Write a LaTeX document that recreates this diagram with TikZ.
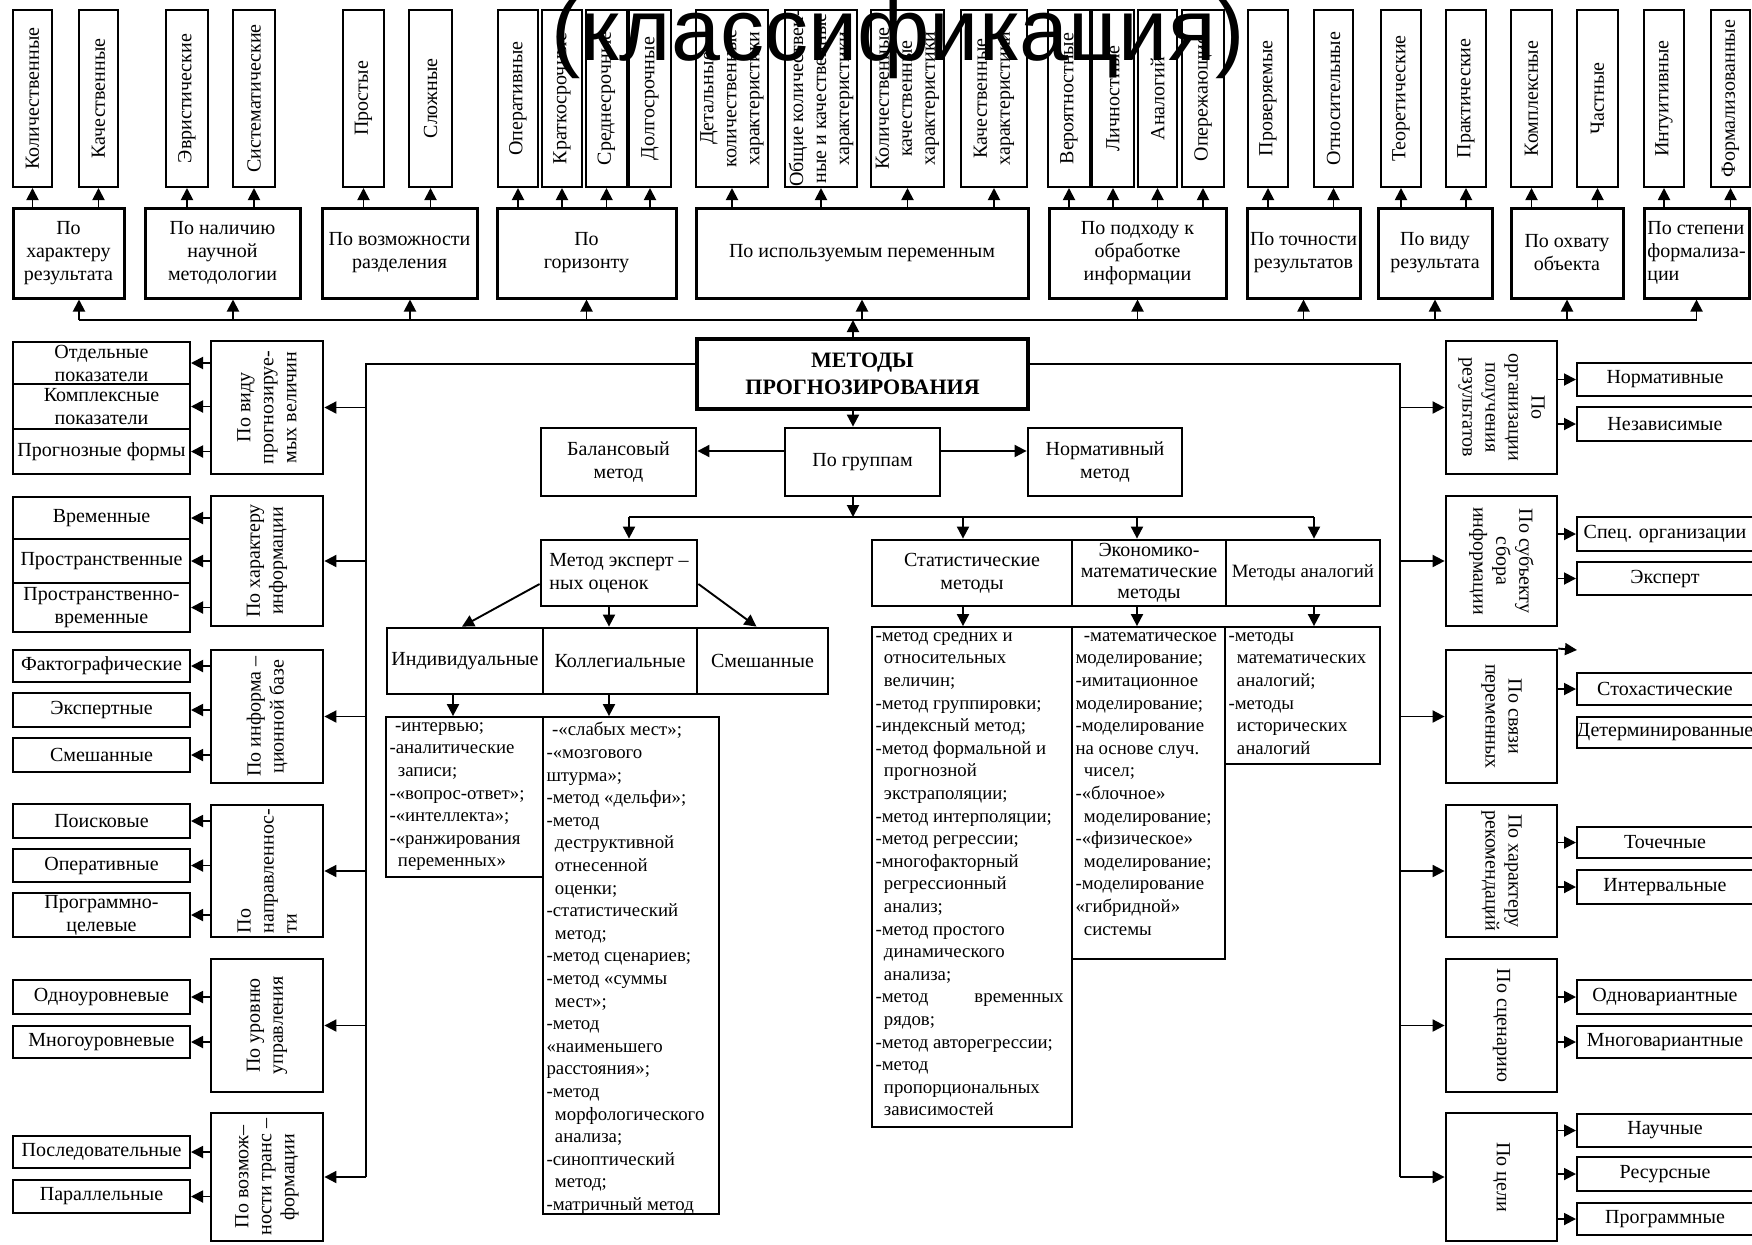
\documentclass[tikz,border=0pt]{standalone}
\usepackage{fontspec}
\setmainfont{Liberation Serif}
\newfontfamily\titlefont{Liberation Sans}
\usetikzlibrary{arrows.meta,calc}
\newcommand\fnbox{\fontsize{10}{11.5}\selectfont}
\newcommand\fnlist{\fontsize{9.4}{11.3}\selectfont}
\newcommand\ind{\hspace*{0.45em}}
\tikzset{
 conn/.style={line width=0.95pt},
 arr/.style={conn, -{Triangle[length=6pt,width=6pt]}},
 topbox/.style={draw, line width=1pt},
 catbox/.style={draw, line width=1.5pt},
 sidebox/.style={draw, line width=1.4pt},
 itembox/.style={draw, line width=1pt},
 cbox/.style={draw, line width=1.4pt},
 mbox/.style={draw, line width=2.3pt},
 listbox/.style={draw, line width=0.9pt},
 lbl/.style={align=center, inner sep=0pt, font=\fnbox},
 rot/.style={lbl, rotate=90},
 rotl/.style={lbl, rotate=90, align=left},
 rotr/.style={lbl, rotate=-90},
 mtext/.style={align=center, inner sep=0pt, font=\fontsize{11}{13.5}\selectfont\bfseries},
 ltext/.style={align=left, inner sep=0pt, anchor=north west, font=\fnlist},
}
% name x1 y1 x2 y2 boxstyle textstyle text
\newcommand\bx[8]{%
 \pgfmathsetmacro\bxw{((#4)-(#2))*0.5}%
 \pgfmathsetmacro\bxh{((#5)-(#3))*0.5}%
 \node[#6, minimum width=\bxw pt, minimum height=\bxh pt, inner sep=0pt] (#1) at ({((#2)+(#4))/2},{((#3)+(#5))/2}) {};
 \node[#7] (#1t) at (#1.center) {#8};}
% list box: name x1 y1 x2 y2 text
\newcommand\lst[6]{%
 \pgfmathsetmacro\bxw{((#4)-(#2))*0.5}%
 \pgfmathsetmacro\bxh{((#5)-(#3))*0.5}%
 \node[listbox, minimum width=\bxw pt, minimum height=\bxh pt, inner sep=0pt] (#1) at ({((#2)+(#4))/2},{((#3)+(#5))/2}) {};
 \node[ltext] (#1t) at ($(#1.north west)+(4,6)$) {#6};}
\begin{document}
\begin{tikzpicture}[x=0.5pt,y=-0.5pt]
\useasboundingbox (0,0) rectangle (1752,1244);
\clip (0,0) rectangle (1752,1244);
\fill[white] (0,0) rectangle (1752,1244);

% ---------- top rotated boxes ----------
\bx{t1}{13}{10}{52}{187}{topbox}{rot}{Количественные}
\bx{t2}{79}{10}{118}{187}{topbox}{rot}{Качественные}
\bx{t3}{166}{10}{208}{187}{topbox}{rot}{Эвристические}
\bx{t4}{233}{10}{275}{187}{topbox}{rot}{Систематические}
\bx{t5}{343}{10}{384}{187}{topbox}{rot}{Простые}
\bx{t6}{409}{10}{452}{187}{topbox}{rot}{Сложные}
\bx{t7}{498}{10}{538}{187}{topbox}{rot}{Оперативные}
\bx{t8}{542}{10}{582}{187}{topbox}{rot}{Краткосрочные}
\bx{t9}{586}{10}{627}{187}{topbox}{rot}{Среднесрочные}
\bx{t10}{629}{10}{671}{187}{topbox}{rot}{Долгосрочные}
\bx{t11}{696}{10}{768}{187}{topbox}{rot}{Детальные\\количественные\\характеристики}
\bx{t12}{785}{10}{857}{187}{topbox}{rot}{Общие количествен-\\ные и качественные\\характеристики}
\bx{t13}{871}{10}{944}{187}{topbox}{rot}{Количественные\\качественные\\характеристики}
\bx{t14}{961}{10}{1027}{187}{topbox}{rot}{Качественные\\характеристики}
\bx{t15}{1048}{10}{1090}{187}{topbox}{rot}{Вероятностные}
\bx{t16}{1092}{10}{1134}{187}{topbox}{rot}{Личностные}
\bx{t17}{1138}{10}{1177}{187}{topbox}{rot}{Аналогий}
\bx{t18}{1182}{10}{1224}{187}{topbox}{rot}{Опережающие}
\bx{t19}{1248}{10}{1288}{187}{topbox}{rot}{Проверяемые}
\bx{t20}{1314}{10}{1353}{187}{topbox}{rot}{Относительные}
\bx{t21}{1381}{10}{1421}{187}{topbox}{rot}{Теоретические}
\bx{t22}{1446}{10}{1486}{187}{topbox}{rot}{Практические}
\bx{t23}{1511}{10}{1552}{187}{topbox}{rot}{Комплексные}
\bx{t24}{1577}{10}{1618}{187}{topbox}{rot}{Частные}
\bx{t25}{1644}{10}{1684}{187}{topbox}{rot}{Интуитивные}
\bx{t26}{1711}{10}{1750}{187}{topbox}{rot}{Формализованные}

% ---------- category boxes ----------
\bx{c1}{13}{208}{124}{298}{catbox}{lbl}{По\\характеру\\результата}
\bx{c2}{145}{208}{300}{298}{catbox}{lbl}{По наличию\\научной\\методологии}
\bx{c3}{322}{208}{477}{298}{catbox}{lbl}{По возможности\\разделения}
\bx{c4}{497}{208}{676}{298}{catbox}{lbl}{По\\горизонту}
\bx{c5}{696}{208}{1028}{298}{catbox}{lbl}{По используемым переменным}
\bx{c6}{1049}{208}{1226}{298}{catbox}{lbl}{По подходу к\\обработке\\информации}
\bx{c7}{1247}{208}{1360}{298}{catbox}{lbl}{По точности\\результатов}
\bx{c8}{1378}{208}{1492}{298}{catbox}{lbl}{По виду\\результата}
\bx{c9}{1511}{208}{1623}{298}{catbox}{lbl}{По охвату\\объекта}
\bx{c10}{1644}{208}{1749}{298}{catbox}{lbl, align=left}{По степени\\формализа-\\ции}

\foreach \t/\c in {t1/c1,t2/c1,t3/c2,t4/c2,t5/c3,t6/c3,t7/c4,t8/c4,t9/c4,t10/c4,
  t11/c5,t12/c5,t13/c5,t14/c5,t15/c6,t16/c6,t17/c6,t18/c6,t19/c7,t20/c7,
  t21/c8,t22/c8,t23/c9,t24/c9,t25/c10,t26/c10}
  \draw[arr] (\t.south |- \c.north) -- (\t.south);

% bus with drops into the category boxes
\coordinate (bus) at (0,320);
\coordinate (k1) at (79,320);
\coordinate (k2) at (233,320);
\coordinate (k3) at (410,320);
\draw[conn] (k1) -- (c10.south |- bus);
\draw[arr] (k1) -- (k1 |- c1.south);
\draw[arr] (k2) -- (k2 |- c2.south);
\draw[arr] (k3) -- (k3 |- c3.south);
\foreach \c in {c4,c5,c6,c7,c8,c9,c10}
  \draw[arr] (\c.south |- bus) -- (\c.south);

% ---------- centre ----------
\bx{met}{697}{339}{1028}{409}{mbox}{mtext}{МЕТОДЫ\\ПРОГНОЗИРОВАНИЯ}
\coordinate (mx) at (853,0);
\draw[arr] (mx |- met.north) -- (mx |- bus);

\bx{grp}{785}{428}{940}{496}{cbox}{lbl}{По группам}
\bx{bal}{541}{428}{696}{496}{cbox}{lbl}{Балансовый\\метод}
\bx{norm}{1028}{428}{1182}{496}{cbox}{lbl}{Нормативный\\метод}
\draw[arr] (mx |- met.south) -- (mx |- grp.north);
\coordinate (gy) at (0,451);
\draw[arr] (grp.west |- gy) -- (bal.east |- gy);
\draw[arr] (grp.east |- gy) -- (norm.west |- gy);

\coordinate (sp) at (0,517);
\coordinate (d1) at (629,517);
\coordinate (d2) at (963,517);
\coordinate (d3) at (1137,517);
\coordinate (d4) at (1314,517);
\draw[arr] (mx |- grp.south) -- (mx |- sp);
\draw[conn] (d1) -- (d4);

\bx{exp}{541}{540}{697}{606}{cbox}{lbl, align=left}{Метод эксперт –\\ных оценок}
\bx{stat}{872}{540}{1072}{606}{cbox}{lbl}{Статистические\\методы}
\bx{econ}{1072}{540}{1226}{606}{cbox}{lbl, font=\fontsize{10}{10.5}\selectfont}{Экономико-\\математические\\методы}
\bx{anal}{1226}{540}{1380}{606}{cbox}{lbl, font=\fontsize{9.4}{11}\selectfont}{Методы аналогий}
\draw[arr] (d1) -- (d1 |- exp.north);
\draw[arr] (d2) -- (d2 |- stat.north);
\draw[arr] (d3) -- (d3 |- econ.north);
\draw[arr] (d4) -- (d4 |- anal.north);

\lst{statl}{872}{627}{1072}{1127}{-метод средних и\\
\ind относительных\\
\ind величин;\\
-метод группировки;\\
-индексный метод;\\
-метод формальной и\\
\ind прогнозной\\
\ind экстраполяции;\\
-метод интерполяции;\\
-метод регрессии;\\
-многофакторный\\
\ind регрессионный\\
\ind анализ;\\
-метод простого\\
\ind динамического\\
\ind анализа;\\
\makebox[94pt][s]{-метод\hfill временных}\\
\ind рядов;\\
-метод авторегрессии;\\
-метод\\
\ind пропорциональных\\
\ind зависимостей}
\lst{econl}{1072}{627}{1225}{959}{\ind -математическое\\
моделирование;\\
-имитационное\\
моделирование;\\
-моделирование\\
на основе случ.\\
\ind чисел;\\
-«блочное»\\
\ind моделирование;\\
-«физическое»\\
\ind моделирование;\\
-моделирование\\
«гибридной»\\
\ind системы}
\lst{anall}{1225}{627}{1380}{764}{-методы\\
\ind математических\\
\ind аналогий;\\
-методы\\
\ind исторических\\
\ind аналогий}
\draw[arr] (d2 |- stat.south) -- (d2 |- statl.north);
\draw[arr] (d3 |- econ.south) -- (d3 |- econl.north);
\draw[arr] (d4 |- anal.south) -- (d4 |- anall.north);

% expert subtree
\bx{ind}{387}{628}{543}{694}{cbox}{lbl}{Индивидуальные}
\bx{kol}{543}{628}{697}{694}{cbox}{lbl}{Коллегиальные}
\bx{smesh}{697}{628}{828}{694}{cbox}{lbl}{Смешанные}
\coordinate (ey) at (0,584);
\coordinate (kx) at (609,0);
\coordinate (ix) at (453,0);
\draw[arr] (exp.west |- ey) -- ($(ind.north)+(-3,0)$);
\draw[arr] (kx |- exp.south) -- (kx |- kol.north);
\draw[arr] (exp.east |- ey) -- ($(smesh.north)+(-6,0)$);

\lst{indl}{386}{717}{543}{877}{\hspace*{0.3em}-интервью;\\
-аналитические\\
\ind записи;\\
-«вопрос-ответ»;\\
-«интеллекта»;\\
-«ранжирования\\
\ind переменных»}
\lst{koll}{543}{717}{719}{1214}{\hspace*{0.3em}-«слабых мест»;\\
-«мозгового\\
штурма»;\\
-метод «дельфи»;\\
-метод\\
\ind деструктивной\\
\ind отнесенной\\
\ind оценки;\\
-статистический\\
\ind метод;\\
-метод сценариев;\\
-метод «суммы\\
\ind мест»;\\
-метод\\
«наименьшего\\
расстояния»;\\
-метод\\
\ind морфологического\\
\ind анализа;\\
-синоптический\\
\ind метод;\\
-матричный метод}
\draw[arr] (ix |- ind.south) -- (ix |- indl.north);
\draw[arr] (kx |- kol.south) -- (kx |- koll.north);

% ---------- left side ----------
\bx{L1}{211}{341}{323}{474}{sidebox}{rot}{По виду\\прогнозируе-\\мых величин}
\bx{L2}{211}{496}{323}{626}{sidebox}{rot}{По характеру\\информации}
\bx{L3}{211}{650}{323}{783}{sidebox}{rot}{По информа –\\ционной базе}
\bx{L4}{211}{805}{323}{937}{sidebox}{rotl}{По\\направленнос-\\ти}
\bx{L5}{211}{959}{323}{1092}{sidebox}{rot}{По уровню\\управления}
\bx{L6}{211}{1113}{323}{1241}{sidebox}{rot}{По возмож–\\ности транс –\\формации}

\coordinate (lv) at (366,364);
\draw[conn] (met.west |- lv) -- (lv) -- (lv |- L6.east);
\foreach \n in {L1,L2,L3,L4,L5,L6}
  \draw[arr] (lv |- \n.east) -- (\n.east);

\bx{a1}{13}{342}{190}{384}{itembox}{lbl}{Отдельные\\показатели}
\bx{a2}{13}{384}{190}{429}{itembox}{lbl}{Комплексные\\показатели}
\bx{a3}{13}{429}{190}{474}{itembox}{lbl}{Прогнозные формы}
\bx{b1}{13}{497}{190}{539}{itembox}{lbl}{Временные}
\bx{b2}{13}{539}{190}{583}{itembox}{lbl}{Пространственные}
\bx{b3}{13}{583}{190}{632}{itembox}{lbl}{Пространственно-\\временные}
\bx{e1}{13}{650}{190}{682}{itembox}{lbl}{Фактографические}
\bx{e2}{13}{693}{190}{727}{itembox}{lbl}{Экспертные}
\bx{e3}{13}{738}{190}{772}{itembox}{lbl}{Смешанные}
\bx{f1}{13}{804}{190}{838}{itembox}{lbl}{Поисковые}
\bx{f2}{13}{849}{190}{882}{itembox}{lbl}{Оперативные}
\bx{f3}{13}{893}{190}{937}{itembox}{lbl}{Программно-\\целевые}
\bx{g1}{13}{980}{190}{1014}{itembox}{lbl}{Одноуровневые}
\bx{g2}{13}{1026}{190}{1058}{itembox}{lbl}{Многоуровневые}
\bx{h1}{13}{1136}{190}{1168}{itembox}{lbl}{Последовательные}
\bx{h2}{13}{1180}{190}{1213}{itembox}{lbl}{Параллельные}
\foreach \i/\c in {a1/L1,a2/L1,a3/L1,b1/L2,b2/L2,b3/L2,e1/L3,e2/L3,e3/L3,
  f1/L4,f2/L4,f3/L4,g1/L5,g2/L5,h1/L6,h2/L6}
  \draw[arr] (\c.west |- \i.east) -- (\i.east);

% ---------- right side ----------
\bx{R1}{1446}{341}{1557}{474}{sidebox}{rotr}{По\\организации\\получения\\результатов}
\bx{R2}{1446}{496}{1557}{626}{sidebox}{rotr}{По субъекту\\сбора\\информации}
\bx{R3}{1446}{650}{1557}{783}{sidebox}{rotr}{По связи\\переменных}
\bx{R4}{1446}{805}{1557}{937}{sidebox}{rotr}{По характеру\\рекомендаций}
\bx{R5}{1446}{959}{1557}{1092}{sidebox}{rotr}{По сценарию}
\bx{R6}{1446}{1113}{1557}{1241}{sidebox}{rotr}{По цели}

\coordinate (rv) at (1400,364);
\draw[conn] (met.east |- rv) -- (rv) -- (rv |- R6.west);
\foreach \n in {R1,R2,R3,R4,R5,R6}
  \draw[arr] (rv |- \n.west) -- (\n.west);

\bx{p1}{1577}{363}{1753}{396}{itembox}{lbl}{Нормативные}
\bx{p2}{1577}{407}{1753}{441}{itembox}{lbl}{Независимые}
\bx{q1}{1577}{517}{1753}{551}{itembox}{lbl}{Спец. организации}
\bx{q2}{1577}{562}{1753}{595}{itembox}{lbl}{Эксперт}
\bx{s1}{1577}{673}{1753}{705}{itembox}{lbl}{Стохастические}
\bx{s2}{1577}{717}{1753}{748}{itembox}{lbl}{Детерминированные}
\bx{u1}{1577}{827}{1753}{858}{itembox}{lbl}{Точечные}
\bx{u2}{1577}{870}{1753}{904}{itembox}{lbl}{Интервальные}
\bx{v1}{1577}{980}{1753}{1014}{itembox}{lbl}{Одновариантные}
\bx{v2}{1577}{1026}{1753}{1058}{itembox}{lbl}{Многовариантные}
\bx{w1}{1577}{1114}{1753}{1147}{itembox}{lbl}{Научные}
\bx{w2}{1577}{1157}{1753}{1191}{itembox}{lbl}{Ресурсные}
\bx{w3}{1577}{1203}{1753}{1235}{itembox}{lbl}{Программные}
\foreach \i/\c in {p1/R1,p2/R1,q1/R2,q2/R2,s1/R3,u1/R4,u2/R4,
  v1/R5,v2/R5,w1/R6,w2/R6,w3/R6}
  \draw[arr] (\c.east |- \i.west) -- (\i.west);
\coordinate (stray) at (1577,650);
\draw[arr] (R3.north east) -- (stray);

% ---------- title ----------
\node[font=\titlefont\fontsize{44}{44}\selectfont, anchor=base, inner sep=0pt] (title) at (898,60) {(классификация)};
\end{tikzpicture}
\end{document}
